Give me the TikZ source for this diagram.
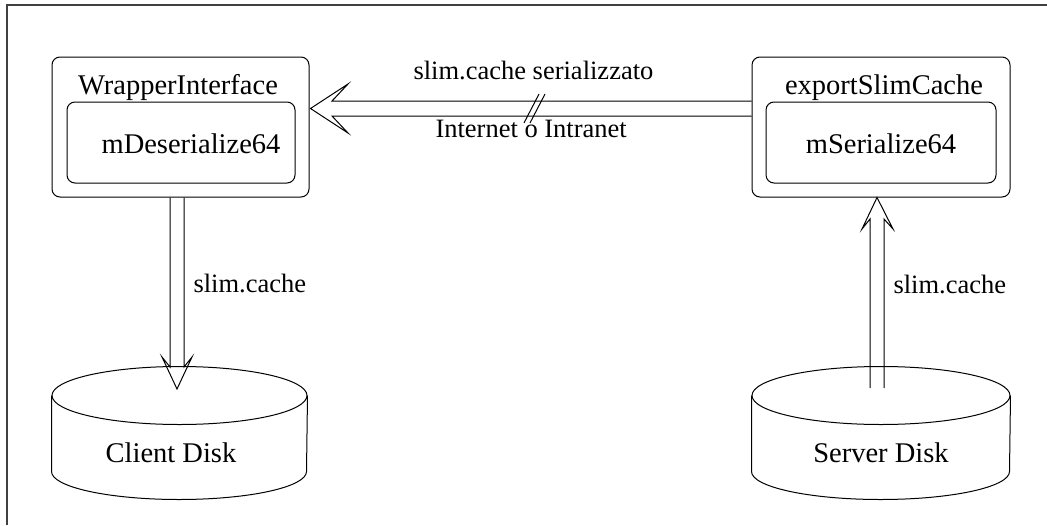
\documentclass[tikz,border=0pt]{standalone}
\usepackage{fontspec}
\setmainfont{Liberation Serif}
\usetikzlibrary{calc}
\begin{document}
\begin{tikzpicture}[x=1pt,y=-1pt,line width=1pt,line join=miter,
  box/.style={draw,rounded corners=8pt,inner sep=0pt},
  ttl/.style={font=\fontsize{28.5}{32}\selectfont,inner sep=0pt},
  lbl/.style={font=\fontsize{26.5}{30}\selectfont,inner sep=0pt},
  disk/.style={draw=none,inner sep=0pt}]
\useasboundingbox (0,0) rectangle (1047,525);
% outer frame
\draw[line width=1.4pt,black!75] (7,525) -- (7,5) -- (1047,5);

% client side component
\node[box,minimum width=257pt,minimum height=140pt] (wrap) at (180.5,127) {};
\node[box,minimum width=228pt,minimum height=81pt] (deser) at (181,142.5) {};
\node[ttl,anchor=base] (wrapT) at (178,94) {WrapperInterface};
\node[ttl,anchor=base] (deserT) at (191,153) {mDeserialize64};

% server side component
\node[box,minimum width=258pt,minimum height=140pt] (export) at (881,127) {};
\node[box,minimum width=230pt,minimum height=81pt] (ser) at (881,142.5) {};
\node[ttl,anchor=base] (exportT) at (884,94) {exportSlimCache};
\node[ttl,anchor=base] (serT) at (881,153) {mSerialize64};

% disks
\node[disk,minimum width=255pt,minimum height=132pt] (cdisk) at (179.5,433) {};
\node[disk,minimum width=258pt,minimum height=132pt] (sdisk) at (881,433) {};
\draw (cdisk.north) ++(0,29) ellipse [x radius=127.5, y radius=29];
\draw ($(cdisk.north west)+(0,29)$) -- ($(cdisk.south west)+(0,-28)$)
      arc [start angle=180, end angle=0, x radius=127.5, y radius=28]
      -- ($(cdisk.north east)+(0,29)$);
\draw (sdisk.north) ++(0,29) ellipse [x radius=129, y radius=29];
\draw ($(sdisk.north west)+(0,29)$) -- ($(sdisk.south west)+(0,-28)$)
      arc [start angle=180, end angle=0, x radius=129, y radius=28]
      -- ($(sdisk.north east)+(0,29)$);
\node[ttl,anchor=base] (cdiskT) at (171,462) {Client Disk};
\node[ttl,anchor=base] (sdiskT) at (881,462) {Server Disk};

% network transfer (double-line arrow)
\draw ($(export.west)+(0,-26)$) -- (332,101) -- (348,84)
      -- ($(wrap.east)+(1,-18.5)$) -- (348,133) -- (332,116)
      -- ($(export.west)+(0,-11)$);
\draw (524,123) -- (539,94);
\draw (530,123) -- (545,94);
\node[lbl,anchor=base west] (netT) at (413,79) {slim.cache serializzato};
\node[lbl,anchor=base west] (netB) at (435,137) {Internet o Intranet};

% write to client disk
\draw ($(wrap.south)+(-10.5,0)$) -- (170,367) -- (162,357)
      -- (177,389) -- (192,357) -- (184,367) -- ($(wrap.south)+(3.5,0)$);
\node[lbl,anchor=base west] (cT) at (193,292) {slim.cache};

% read from server disk
\draw (870,388) -- (870,219) -- (862,229)
      -- ($(export.south)+(-4,0)$) -- (893,229) -- (884,219) -- (884,388);
\node[lbl,anchor=base west] (sT) at (893,293) {slim.cache};
\end{tikzpicture}
\end{document}
